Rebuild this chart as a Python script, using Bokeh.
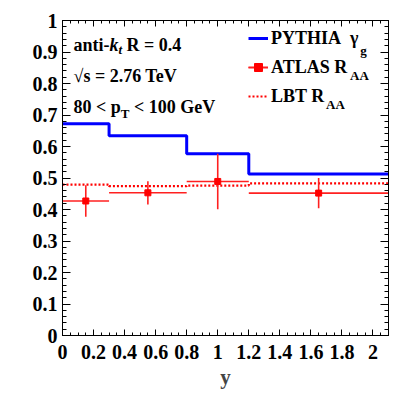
import math
from bokeh.plotting import figure
from bokeh.models import (Range1d, LinearAxis, FixedTicker, Label, Legend, LegendItem,
                          CustomJSTickFormatter)
from bokeh.embed import file_html
from bokeh.resources import INLINE

FONT = "Liberation Serif"
NB = "\u00a0"

# ---------------- data ----------------
bin_edges = [0.0, 0.3, 0.8, 1.2, 2.1]
pythia_gamma_g = [0.672, 0.634, 0.577, 0.513]
lbt_raa = [0.479, 0.474, 0.476, 0.483]
atlas_x = [0.15, 0.55, 1.0, 1.65]
atlas_raa = [0.427, 0.453, 0.489, 0.452]
atlas_err = [0.050, 0.037, 0.088, 0.048]

x_ticks = [0.0, 0.2, 0.4, 0.6, 0.8, 1.0, 1.2, 1.4, 1.6, 1.8, 2.0]
x_tick_labels = ["0", "0.2", "0.4", "0.6", "0.8", "1", "1.2", "1.4", "1.6", "1.8", "2"]
y_ticks = [0.0, 0.1, 0.2, 0.3, 0.4, 0.5, 0.6, 0.7, 0.8, 0.9, 1.0]
y_tick_labels = ["0", "0.1", "0.2", "0.3", "0.4", "0.5", "0.6", "0.7", "0.8", "0.9", "1"]
x_minor = [round(i * 0.05, 4) for i in range(0, 43)]
y_minor = [round(i * 0.02, 4) for i in range(0, 51)]

# ---------------- layout ----------------
W, H = 409, 395
BL, BR, BT, BB = 62, 21, 20, 60
FW, FH = W - BL - BR, H - BT - BB
X0, X1, Y0, Y1 = 0.0, 2.1, 0.0, 1.0
FL, FT = BL, BT  # frame left/top in picture pixels


def px2x(px):
    return X0 + (px - FL) / FW * (X1 - X0)


def py2y(py):
    return Y1 - (py - FT) / FH * (Y1 - Y0)


p = figure(width=W, height=H, x_range=Range1d(X0, X1), y_range=Range1d(Y0, Y1),
           output_backend="svg", toolbar_location=None,
           min_border_left=BL, min_border_right=BR, min_border_top=BT, min_border_bottom=BB,
           x_axis_location=None, y_axis_location=None)
p.xgrid.visible = False
p.ygrid.visible = False
p.outline_line_color = "black"
p.outline_line_width = 1
p.background_fill_color = "white"
p.border_fill_color = "white"

fmt_code = """
let best = 0; let d = 1e9;
for (let i = 0; i < tick_vals.length; i++) {
  const dd = Math.abs(tick_vals[i] - tick);
  if (dd < d) { d = dd; best = i; }
}
return tick_text[best];
"""

TICK_FS = "20px"


def make_axis(cls_loc, ticks, minor, labels, major_len, minor_len, show):
    ax = LinearAxis(ticker=FixedTicker(ticks=ticks, minor_ticks=minor))
    ax.axis_line_color = "black"
    ax.axis_line_width = 1
    ax.major_tick_in = major_len
    ax.major_tick_out = 0
    ax.minor_tick_in = minor_len
    ax.minor_tick_out = 0
    ax.major_tick_line_color = "black"
    ax.minor_tick_line_color = "black"
    if show:
        ax.formatter = CustomJSTickFormatter(args=dict(tick_vals=ticks, tick_text=labels),
                                             code=fmt_code)
        ax.major_label_text_font = FONT
        ax.major_label_text_font_style = "bold"
        ax.major_label_text_color = "black"
        ax.major_label_text_font_size = TICK_FS
    else:
        ax.formatter = CustomJSTickFormatter(code="return '';")
        ax.major_label_standoff = 0
    p.add_layout(ax, cls_loc)
    return ax


xb = make_axis("below", x_ticks, x_minor, x_tick_labels, 6, 3, True)
xb.major_label_standoff = 9
xb.axis_label = "y"
xb.axis_label_text_font = FONT
xb.axis_label_text_font_style = "bold"
xb.axis_label_text_font_size = "21px"
xb.axis_label_standoff = 3
yl = make_axis("left", y_ticks, y_minor, y_tick_labels, 8, 4, True)
yl.major_label_standoff = 5
make_axis("above", x_ticks, x_minor, x_tick_labels, 6, 3, False)
make_axis("right", y_ticks, y_minor, y_tick_labels, 8, 4, False)

# ---------------- glyphs ----------------
def step_xy(edges, vals):
    xs, ys = [], []
    for i, v in enumerate(vals):
        xs += [edges[i], edges[i + 1]]
        ys += [v, v]
    return xs, ys


px_, py_ = step_xy(bin_edges, pythia_gamma_g)
r_pythia = p.line(px_, py_, line_color="#0000ff", line_width=3)

lx, ly = step_xy(bin_edges, lbt_raa)
r_lbt = p.line(lx, ly, line_color="#ff0000", line_width=2.2, line_dash="2 2")

RED = "#ff2020"
r_h = p.segment(x0=bin_edges[:-1], x1=bin_edges[1:], y0=atlas_raa, y1=atlas_raa,
                line_color=RED, line_width=1.6)
r_v = p.segment(x0=atlas_x, x1=atlas_x,
                y0=[v - e for v, e in zip(atlas_raa, atlas_err)],
                y1=[v + e for v, e in zip(atlas_raa, atlas_err)],
                line_color=RED, line_width=1.6)
r_pt = p.scatter(atlas_x, atlas_raa, marker="square", size=6, fill_color="#ff0000",
                 line_color="#ff0000")

# ---------------- legend ----------------
S, SS = 18, 13
LEG_X, LEG_Y = 186, 228
PY_LABEL = "PYTHIA" + NB + NB + "γ"
leg = Legend(items=[LegendItem(label=PY_LABEL, renderers=[r_pythia]),
                    LegendItem(label="ATLAS R", renderers=[r_h, r_v, r_pt]),
                    LegendItem(label="LBT R", renderers=[r_lbt])],
             location=(LEG_X, LEG_Y), orientation="vertical")
leg.background_fill_alpha = 0
leg.border_line_alpha = 0
leg.padding = 0
leg.margin = 0
leg.spacing = 7
leg.glyph_width = 20
leg.glyph_height = 22
leg.label_height = 22
leg.label_standoff = 3
leg.label_text_font = FONT
leg.label_text_font_style = "bold"
leg.label_text_font_size = f"{S}px"
leg.label_text_color = "black"
p.add_layout(leg)

# ---------------- rich text helpers ----------------
WB = {' ': 250, NB: 250, '-': 333, '.': 250, ',': 250, '<': 570, '=': 570, '√': 549,
      'A': 722, 'B': 667, 'E': 667, 'G': 778, 'H': 778, 'I': 389, 'L': 667, 'P': 611,
      'R': 722, 'S': 556, 'T': 667, 'V': 722, 'Y': 722, 'a': 500, 'e': 444, 'g': 500,
      'i': 278, 'k': 556, 'n': 556, 'p': 556, 's': 389, 't': 333, 'y': 500, 'γ': 480}
for d in "0123456789":
    WB[d] = 500
WBI = {'k': 500, 't': 278}


def text_width(txt, size, style):
    tab = WBI if style == "bold italic" else WB
    return sum(tab.get(c, WB.get(c, 500)) for c in txt) * size / 1000.0


def rich_text(pieces, x_px, base_px):
    x = x_px
    for txt, size, style, dy in pieces:
        p.add_layout(Label(x=px2x(x), y=py2y(base_px + dy), text=txt, text_font=FONT,
                           text_font_style=style, text_font_size=f"{size}px",
                           text_baseline="alphabetic", text_align="left",
                           text_color="black"))
        x += text_width(txt, size, style)


def rich_text_vertical(pieces, base_px, y_px):
    y = y_px
    for txt, size, style, dx in pieces:
        p.add_layout(Label(x=px2x(base_px + dx), y=py2y(y), text=txt, text_font=FONT,
                           text_font_style=style, text_font_size=f"{size}px",
                           text_baseline="alphabetic", text_align="left",
                           angle=math.pi / 2, text_color="black"))
        y -= text_width(txt, size, style)


rich_text([("anti-", S, "bold", 0), ("k", S, "bold italic", 0), ("t", SS, "bold italic", 5),
           (NB + "R = 0.4", S, "bold", 0)], 73, 44)
rich_text([("√s = 2.76 TeV", S, "bold", 0)], 73, 75)
rich_text([("80 <" + NB + "p", S, "bold", 0), ("T", SS, "bold", 7),
           (NB + "< 100 GeV", S, "bold", 0)], 73, 106)

# legend subscripts
lx0 = FL + LEG_X + 20 + 3
rich_text([("g", SS, "bold", 0)], lx0 + text_width(PY_LABEL, S, "bold") + 1, 50)
rich_text([("AA", SS, "bold", 0)], lx0 + text_width("ATLAS R", S, "bold") + 1, 75)
rich_text([("AA", SS, "bold", 0)], lx0 + text_width("LBT R", S, "bold") + 1, 104)

# y axis title
rich_text_vertical([("γ", 22, "bold", 0), ("g", 16, "bold", 6), (NB + "," + NB + "R", 22, "bold", 0),
                    ("AA", 16, "bold", 6)], 18, 222)

open("out.html", "w").write(file_html(p, INLINE))
